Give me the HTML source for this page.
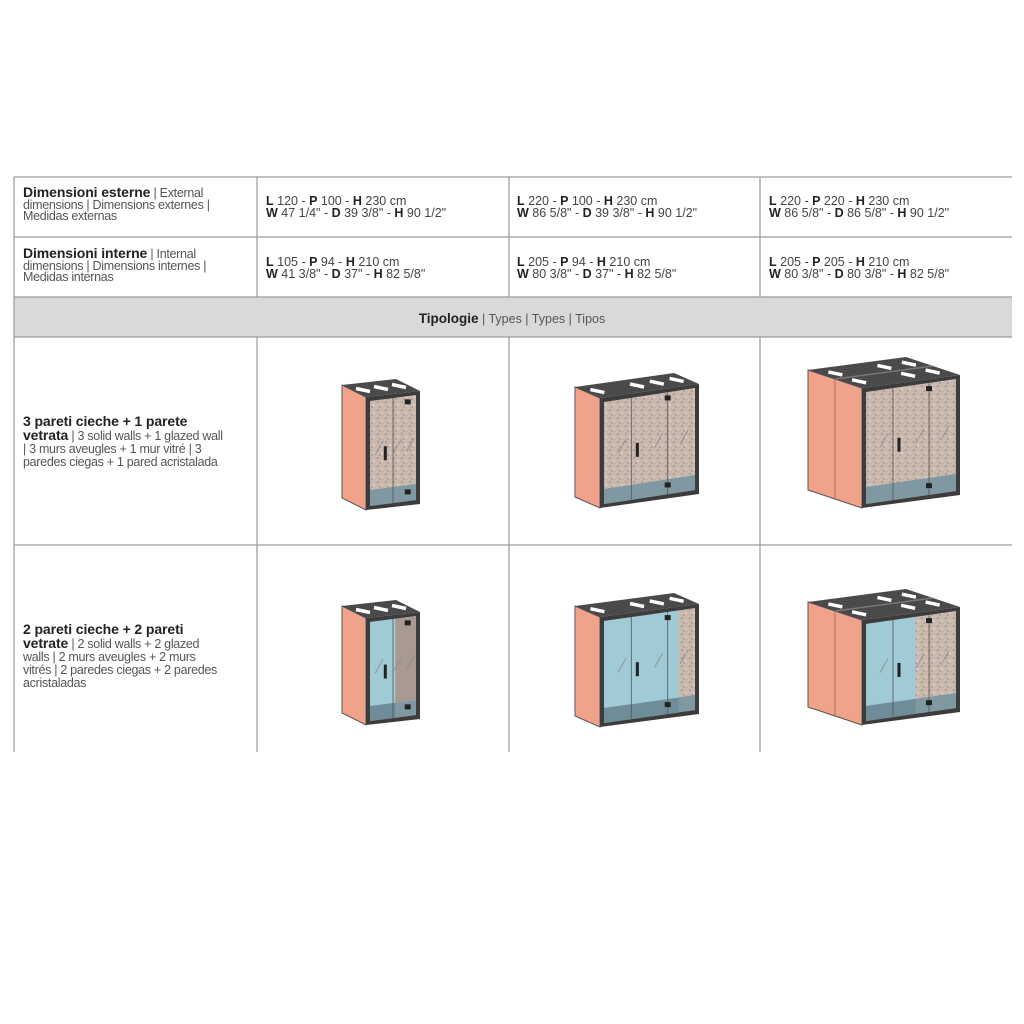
<!DOCTYPE html>
<html><head><meta charset="utf-8"><style>
body{margin:0;background:#fff;width:1024px;height:1024px;position:relative;overflow:hidden;font-family:"Liberation Sans",Arial,sans-serif;color:#555}
.t{position:absolute;font-size:12.5px;line-height:11.5px;letter-spacing:-0.3px;white-space:nowrap}
.t b{color:#222;font-size:14px;letter-spacing:-0.1px}
.d{position:absolute;font-size:12.5px;line-height:12px;color:#444;white-space:nowrap}
.d b{color:#222}
svg{position:absolute;left:0;top:0}
</style></head><body>
<svg width="1024" height="1024" id="s">
<rect x="14" y="297" width="998" height="40" fill="#d9d9d9"/>
<g stroke="#9a9a9a" stroke-width="1.2" fill="none">
<line x1="14" y1="177" x2="1012" y2="177"/>
<line x1="14" y1="237" x2="1012" y2="237"/>
<line x1="14" y1="297" x2="1012" y2="297"/>
<line x1="14" y1="337" x2="1012" y2="337"/>
<line x1="14" y1="545" x2="1012" y2="545"/>
<line x1="14" y1="177" x2="14" y2="752"/>
<line x1="257" y1="177" x2="257" y2="297"/><line x1="257" y1="337" x2="257" y2="752"/>
<line x1="509" y1="177" x2="509" y2="297"/><line x1="509" y1="337" x2="509" y2="752"/>
<line x1="760" y1="177" x2="760" y2="297"/><line x1="760" y1="337" x2="760" y2="752"/>
</g>
<defs>
<pattern id="gr" width="8" height="8" patternUnits="userSpaceOnUse">
<rect width="8" height="8" fill="#c9b8ae"/><circle cx="2" cy="2" r="1" fill="#a8968c"/><circle cx="6" cy="5" r="1" fill="#e2d6cf"/><circle cx="4" cy="7" r=".8" fill="#9c8a80"/>
</pattern>
</defs>
<g id="boxes"></g>
</svg>

<div class="t" style="left:23px;top:187px"><b>Dimensioni esterne</b> | External<br>dimensions | Dimensions externes |<br>Medidas externas</div>
<div class="t" style="left:23px;top:248px"><b>Dimensioni interne</b> | Internal<br>dimensions | Dimensions internes |<br>Medidas internas</div>

<div class="d" style="left:266px;top:195px"><b>L</b> 120 - <b>P</b> 100 - <b>H</b> 230 cm<br><b>W</b> 47 1/4" - <b>D</b> 39 3/8" - <b>H</b> 90 1/2"</div>
<div class="d" style="left:517px;top:195px"><b>L</b> 220 - <b>P</b> 100 - <b>H</b> 230 cm<br><b>W</b> 86 5/8" - <b>D</b> 39 3/8" - <b>H</b> 90 1/2"</div>
<div class="d" style="left:769px;top:195px"><b>L</b> 220 - <b>P</b> 220 - <b>H</b> 230 cm<br><b>W</b> 86 5/8" - <b>D</b> 86 5/8" - <b>H</b> 90 1/2"</div>
<div class="d" style="left:266px;top:256px"><b>L</b> 105 - <b>P</b> 94 - <b>H</b> 210 cm<br><b>W</b> 41 3/8" - <b>D</b> 37" - <b>H</b> 82 5/8"</div>
<div class="d" style="left:517px;top:256px"><b>L</b> 205 - <b>P</b> 94 - <b>H</b> 210 cm<br><b>W</b> 80 3/8" - <b>D</b> 37" - <b>H</b> 82 5/8"</div>
<div class="d" style="left:769px;top:256px"><b>L</b> 205 - <b>P</b> 205 - <b>H</b> 210 cm<br><b>W</b> 80 3/8" - <b>D</b> 80 3/8" - <b>H</b> 82 5/8"</div>

<div class="d" style="left:0;width:1024px;top:313px;text-align:center;font-size:12.5px;color:#555"><b style="font-size:13.5px">Tipologie</b> | Types | Types | Tipos</div>

<div class="t" style="left:23px;top:415px;line-height:13px"><b>3 pareti cieche + 1 parete</b><br><b>vetrata</b> | 3 solid walls + 1 glazed wall<br>| 3 murs aveugles + 1 mur vitré | 3<br>paredes ciegas + 1 pared acristalada</div>
<div class="t" style="left:23px;top:623px;line-height:13px"><b>2 pareti cieche + 2 pareti</b><br><b>vetrate</b> | 2 solid walls + 2 glazed<br>walls | 2 murs aveugles + 2 murs<br>vitrés | 2 paredes ciegas + 2 paredes<br>acristaladas</div>

<script>
var g=document.getElementById('boxes'),h='';
function P(pts,f,extra){return '<polygon points="'+pts.map(p=>p.join(',')).join(' ')+'" fill="'+f+'" '+(extra||'')+'/>';}
function box(fx,fx2,fy,dy,H,ox,oy,glass,dbl){
  var w=fx2-fx,sl=dy/w;
  function yAt(x,y0){return y0-(x-fx)*sl;}
  h+=P([[fx-ox,fy-oy],[fx,fy],[fx,fy+H],[fx-ox,fy+H-oy]],'#f0a38a','stroke="#555" stroke-width="1"');
  if(dbl){var mx=fx-ox/2,my=oy/2;h+='<line x1="'+mx+'" y1="'+(fy-my)+'" x2="'+mx+'" y2="'+(fy+H-my)+'" stroke="#b07060" stroke-width="1"/>';}
  h+=P([[fx-ox,fy-oy],[fx2-ox,fy-dy-oy],[fx2,fy-dy],[fx,fy]],'#4a4a4a');
  if(dbl){h+='<line x1="'+(fx-ox/2)+'" y1="'+(fy-oy/2)+'" x2="'+(fx2-ox/2)+'" y2="'+(fy-dy-oy/2)+'" stroke="#777" stroke-width="1.5"/>';}
  var rows=dbl?[0.28,0.72]:[0.5];
  rows.forEach(function(r){
    var n=Math.max(3,Math.round(w/22));
    for(var i=0;i<n;i++){
      var t=(i+0.5)/n; if(n>3&&i==1)continue;
      var cx=fx-ox*r+w*t, cy=fy-oy*r-dy*t;
      h+='<line x1="'+(cx-7)+'" y1="'+(cy-1.5)+'" x2="'+(cx+7)+'" y2="'+(cy+1.5)+'" stroke="#fff" stroke-width="3.5"/>';
    }
  });
  h+=P([[fx,fy],[fx2,fy-dy],[fx2,fy-dy+H],[fx,fy+H]],'#3c3c3c');
  var b=4,ix=fx+b,ix2=fx2-b,iy=fy+b,iyR=fy-dy+b,iH=H-2*b;
  h+=P([[ix,iy],[ix2,iyR],[ix2,iyR+iH],[ix,iy+iH]],'url(#gr)');
  var fh=Math.round(H*0.14);
  h+=P([[ix,iy+iH-fh],[ix2,iyR+iH-fh],[ix2,iyR+iH],[ix,iy+iH]],'#7f98a2');
  if(glass){
    var gx2=glass==1?ix+(ix2-ix)*0.55:ix+(ix2-ix)*0.82;
    var gy2=yAt(gx2,iy);
    h+=P([[ix,iy],[gx2,gy2],[gx2,gy2+iH-fh],[ix,iy+iH-fh]],'#9fcad6');
    h+=P([[ix,iy+iH-fh],[gx2,gy2+iH-fh],[gx2,gy2+iH],[ix,iy+iH]],'#6e8d98');
    if(glass==1&&w<60){h+=P([[gx2,gy2],[ix2,iyR],[ix2,iyR+iH-fh],[gx2,gy2+iH-fh]],'#a89a92');}
  }
  var splits=w<60?[0.5]:[0.3,0.7];
  splits.forEach(function(s){var x=ix+(ix2-ix)*s;var y=yAt(x,iy);h+='<line x1="'+x+'" y1="'+y+'" x2="'+x+'" y2="'+(y+iH)+'" stroke="#555" stroke-width="0.8"/>';});
  var hx=ix+(ix2-ix)*(w<60?0.3:0.35),hy=yAt(hx,iy)+iH*0.45;
  h+='<rect x="'+hx+'" y="'+hy+'" width="3" height="14" fill="#222"/>';
  var hgx=ix+(ix2-ix)*(w<60?0.82:0.7);
  h+='<rect x="'+(hgx-3)+'" y="'+(yAt(hgx,iy)+3)+'" width="6" height="5" fill="#222"/>';
  h+='<rect x="'+(hgx-3)+'" y="'+(yAt(hgx,iy)+iH-12)+'" width="6" height="5" fill="#222"/>';
  [0.6,0.2,0.88].forEach(function(s){var x=ix+(ix2-ix)*s,y=yAt(x,iy)+iH*0.45;h+='<line x1="'+(x-4)+'" y1="'+(y+8)+'" x2="'+(x+4)+'" y2="'+(y-6)+'" stroke="#8a8a8a" stroke-width="0.8"/>';});
}
box(366,420,397,6,113,24,12,0,false);
box(600,699,398,14,110,25,11,0,false);
box(862,960,388,13,120,54,18,0,true);
box(366,420,618,6,107,24,12,1,false);
box(600,699,617,13,110,25,11,2,false);
box(862,960,620,13,105,54,18,1,true);
g.innerHTML=h;
</script>
</body></html>
